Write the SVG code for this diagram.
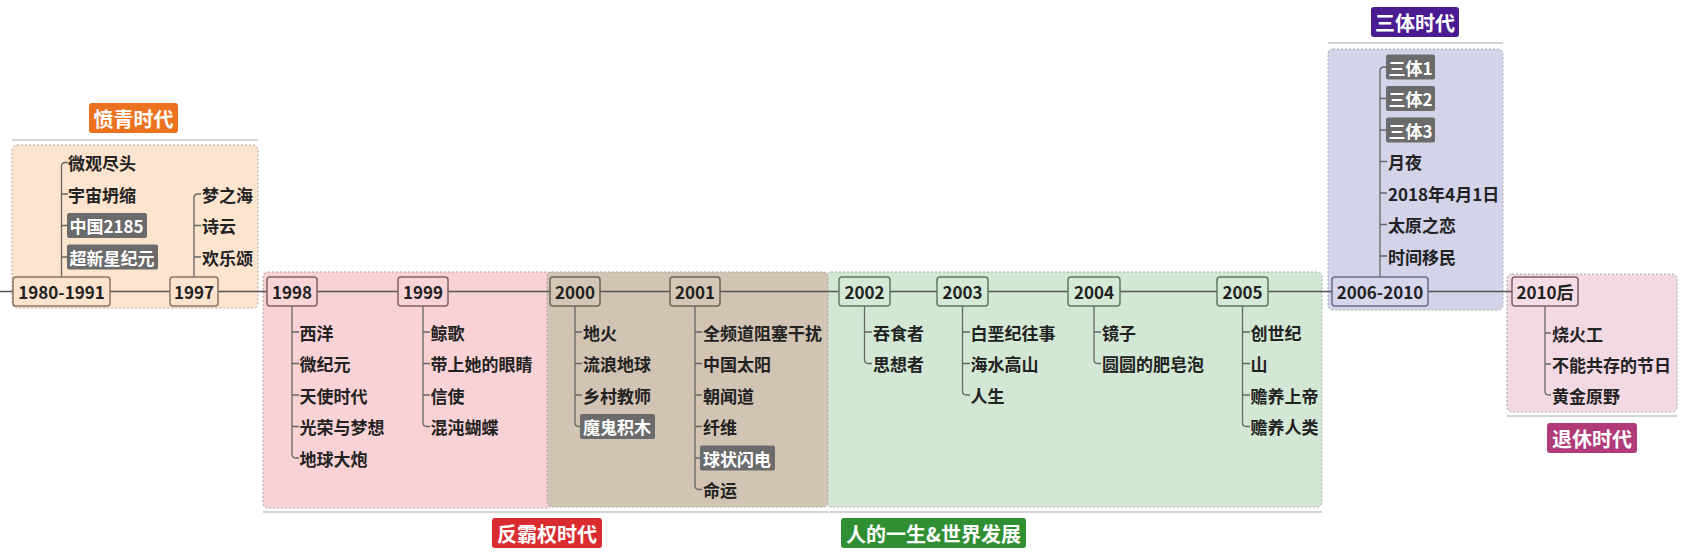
<svg xmlns="http://www.w3.org/2000/svg" width="1684" height="556" viewBox="0 0 1684 556">
<style>
text{font-family:"Noto Sans CJK SC","Noto Sans",sans-serif;font-weight:bold;dominant-baseline:central}
.c{font-size:17px;fill:#222}
.n{font-size:17px;fill:#222;text-anchor:middle}
.h{font-size:17px;fill:#fff}
.lb{font-size:20px;fill:#fff;text-anchor:middle}
.reg{stroke:#a8a8a8;stroke-width:1;stroke-dasharray:2 2}
.sep{stroke:#c4c4c4;stroke-width:1.5;fill:none}
.nd{stroke-width:1.5}
.hl{fill:#6b6b6b}
.cn{fill:none;stroke:#666;stroke-width:1.3}
.tl{fill:none;stroke:#555;stroke-width:1.5}
</style>
<rect width="1684" height="556" fill="#fff"/>
<g id="regions">
<rect class="reg" x="12" y="145" width="246" height="163" rx="5" fill="#FDE4CE"/>
<line class="sep" x1="12" y1="140" x2="258" y2="140"/>
<rect class="reg" x="263" y="272" width="289" height="236" rx="5" fill="#F9D2D5"/>
<rect class="reg" x="826" y="272" width="496" height="235" rx="5" fill="#D3E8D4"/>
<rect class="reg" x="547" y="272" width="281" height="235" rx="5" fill="#D2C4B2"/>
<line class="sep" x1="263" y1="512" x2="829" y2="512"/>
<line class="sep" x1="830" y1="512" x2="1322" y2="512"/>
<rect class="reg" x="1328" y="49" width="175" height="261" rx="5" fill="#D3D3EA"/>
<line class="sep" x1="1328" y1="43" x2="1503" y2="43"/>
<rect class="reg" x="1507" y="274" width="170" height="138" rx="5" fill="#F3D9E4"/>
<line class="sep" x1="1507" y1="416" x2="1677" y2="416"/>
</g>
<g id="labels">
<g id="label-fenqing"><rect x="89" y="103" width="89" height="30" rx="3" fill="#EC7220"/><text class="lb" x="133.5" y="118">愤青时代</text></g>
<g id="label-fanbaquan"><rect x="492" y="518" width="110" height="30" rx="3" fill="#D92B30"/><text class="lb" x="547" y="533">反霸权时代</text></g>
<g id="label-rensheng"><rect x="841" y="518" width="185" height="30" rx="3" fill="#2F8F32"/><text class="lb" x="933.5" y="533">人的一生&amp;世界发展</text></g>
<g id="label-santi"><rect x="1371" y="7" width="88" height="30" rx="3" fill="#4B1C91"/><text class="lb" x="1415" y="22">三体时代</text></g>
<g id="label-tuixiu"><rect x="1547" y="423" width="90" height="30" rx="3" fill="#B13A79"/><text class="lb" x="1592" y="438">退休时代</text></g>
</g>
<g id="connectors">
<path class="tl" d="M0 291.5 H1512"/>
<path class="cn" d="M61.5 277 V166.5 Q61.5 162.5 65.5 162.5 H68 M61.5 194 H68 M61.5 225.5 H67 M61.5 257 H67"/>
<path class="cn" d="M194 277 V198 Q194 194 198 194 H201 M194 225.5 H201 M194 257 H201"/>
<path class="cn" d="M292 306 V454 Q292 458 296 458 H299 M292 332 H299 M292 363.5 H299 M292 395 H299 M292 426.5 H299"/>
<path class="cn" d="M423 306 V422.5 Q423 426.5 427 426.5 H430 M423 332 H430 M423 363.5 H430 M423 395 H430"/>
<path class="cn" d="M575 306 V422.5 Q575 426.5 579 426.5 H580 M575 332 H582 M575 363.5 H582 M575 395 H582"/>
<path class="cn" d="M695 306 V485.5 Q695 489.5 699 489.5 H702 M695 332 H702 M695 363.5 H702 M695 395 H702 M695 426.5 H702 M695 458 H700"/>
<path class="cn" d="M864.5 306 V359.5 Q864.5 363.5 868.5 363.5 H872 M864.5 332 H872"/>
<path class="cn" d="M962.5 306 V391 Q962.5 395 966.5 395 H970 M962.5 332 H970 M962.5 363.5 H970"/>
<path class="cn" d="M1094 306 V359.5 Q1094 363.5 1098 363.5 H1101 M1094 332 H1101"/>
<path class="cn" d="M1242.5 306 V422.5 Q1242.5 426.5 1246.5 426.5 H1250 M1242.5 332 H1250 M1242.5 363.5 H1250 M1242.5 395 H1250"/>
<path class="cn" d="M1380 277 V71 Q1380 67 1384 67 H1386 M1380 98.5 H1386 M1380 130 H1386 M1380 161.5 H1387 M1380 193 H1387 M1380 224.5 H1387 M1380 256 H1387"/>
<path class="cn" d="M1545 306 V391 Q1545 395 1549 395 H1551 M1545 333 H1551 M1545 364 H1551"/>
</g>
<g id="n1980">
<rect class="nd" x="13" y="277" width="97" height="29" rx="3" fill="#FCE3CD" stroke="#8a7565"/><text class="n" x="61.5" y="291.5">1980-1991</text>
<text class="c" x="68" y="162.5">微观尽头</text>
<text class="c" x="68" y="194">宇宙坍缩</text>
<rect class="hl" x="67" y="213" width="80" height="25" rx="2"/><text class="h" x="69.5" y="225.5">中国2185</text>
<rect class="hl" x="67" y="244.5" width="91" height="25" rx="2"/><text class="h" x="69.5" y="257">超新星纪元</text>
</g>
<g id="n1997">
<rect class="nd" x="170" y="277" width="48" height="29" rx="3" fill="#FCE3CD" stroke="#8a7565"/><text class="n" x="194" y="291.5">1997</text>
<text class="c" x="202" y="194">梦之海</text>
<text class="c" x="202" y="225.5">诗云</text>
<text class="c" x="202" y="257">欢乐颂</text>
</g>
<g id="n1998">
<rect class="nd" x="267" y="277" width="50" height="29" rx="3" fill="#F9D4D7" stroke="#7f6266"/><text class="n" x="292" y="291.5">1998</text>
<text class="c" x="299.5" y="332">西洋</text>
<text class="c" x="299.5" y="363.5">微纪元</text>
<text class="c" x="299.5" y="395">天使时代</text>
<text class="c" x="299.5" y="426.5">光荣与梦想</text>
<text class="c" x="299.5" y="458">地球大炮</text>
</g>
<g id="n1999">
<rect class="nd" x="398" y="277" width="50" height="29" rx="3" fill="#F9D4D7" stroke="#7f6266"/><text class="n" x="423" y="291.5">1999</text>
<text class="c" x="430.5" y="332">鲸歌</text>
<text class="c" x="430.5" y="363.5">带上她的眼睛</text>
<text class="c" x="430.5" y="395">信使</text>
<text class="c" x="430.5" y="426.5">混沌蝴蝶</text>
</g>
<g id="n2000">
<rect class="nd" x="550" y="277" width="50" height="29" rx="3" fill="#D4C6B4" stroke="#6f6455"/><text class="n" x="575" y="291.5">2000</text>
<text class="c" x="583" y="332">地火</text>
<text class="c" x="583" y="363.5">流浪地球</text>
<text class="c" x="583" y="395">乡村教师</text>
<rect class="hl" x="580" y="414" width="75" height="25" rx="2"/><text class="h" x="583" y="426.5">魔鬼积木</text>
</g>
<g id="n2001">
<rect class="nd" x="670" y="277" width="50" height="29" rx="3" fill="#D4C6B4" stroke="#6f6455"/><text class="n" x="695" y="291.5">2001</text>
<text class="c" x="703" y="332">全频道阻塞干扰</text>
<text class="c" x="703" y="363.5">中国太阳</text>
<text class="c" x="703" y="395">朝闻道</text>
<text class="c" x="703" y="426.5">纤维</text>
<rect class="hl" x="700" y="445.5" width="75" height="25" rx="2"/><text class="h" x="703" y="458">球状闪电</text>
<text class="c" x="703" y="489.5">命运</text>
</g>
<g id="n2002">
<rect class="nd" x="839" y="277" width="51" height="29" rx="3" fill="#D5EAD6" stroke="#5d7a5f"/><text class="n" x="864.5" y="291.5">2002</text>
<text class="c" x="873" y="332">吞食者</text>
<text class="c" x="873" y="363.5">思想者</text>
</g>
<g id="n2003">
<rect class="nd" x="937" y="277" width="51" height="29" rx="3" fill="#D5EAD6" stroke="#5d7a5f"/><text class="n" x="962.5" y="291.5">2003</text>
<text class="c" x="970.5" y="332">白垩纪往事</text>
<text class="c" x="970.5" y="363.5">海水高山</text>
<text class="c" x="970.5" y="395">人生</text>
</g>
<g id="n2004">
<rect class="nd" x="1068" y="277" width="52" height="29" rx="3" fill="#D5EAD6" stroke="#5d7a5f"/><text class="n" x="1094" y="291.5">2004</text>
<text class="c" x="1102" y="332">镜子</text>
<text class="c" x="1102" y="363.5">圆圆的肥皂泡</text>
</g>
<g id="n2005">
<rect class="nd" x="1217" y="277" width="51" height="29" rx="3" fill="#D5EAD6" stroke="#5d7a5f"/><text class="n" x="1242.5" y="291.5">2005</text>
<text class="c" x="1250.5" y="332">创世纪</text>
<text class="c" x="1250.5" y="363.5">山</text>
<text class="c" x="1250.5" y="395">赡养上帝</text>
<text class="c" x="1250.5" y="426.5">赡养人类</text>
</g>
<g id="n2006">
<rect class="nd" x="1332" y="277" width="96" height="29" rx="3" fill="#D6D6EC" stroke="#6c6c84"/><text class="n" x="1380" y="291.5">2006-2010</text>
<rect class="hl" x="1386" y="54.5" width="49" height="25" rx="2"/><text class="h" x="1388.5" y="67">三体1</text>
<rect class="hl" x="1386" y="86" width="49" height="25" rx="2"/><text class="h" x="1388.5" y="98.5">三体2</text>
<rect class="hl" x="1386" y="117.5" width="49" height="25" rx="2"/><text class="h" x="1388.5" y="130">三体3</text>
<text class="c" x="1388" y="161.5">月夜</text>
<text class="c" x="1388" y="193">2018年4月1日</text>
<text class="c" x="1388" y="224.5">太原之恋</text>
<text class="c" x="1388" y="256">时间移民</text>
</g>
<g id="n2010">
<rect class="nd" x="1512" y="277" width="66" height="29" rx="3" fill="#F5DCE7" stroke="#7d5f6c"/><text class="n" x="1545" y="291.5">2010后</text>
<text class="c" x="1552" y="333">烧火工</text>
<text class="c" x="1552" y="364">不能共存的节日</text>
<text class="c" x="1552" y="395">黄金原野</text>
</g>
</svg>
